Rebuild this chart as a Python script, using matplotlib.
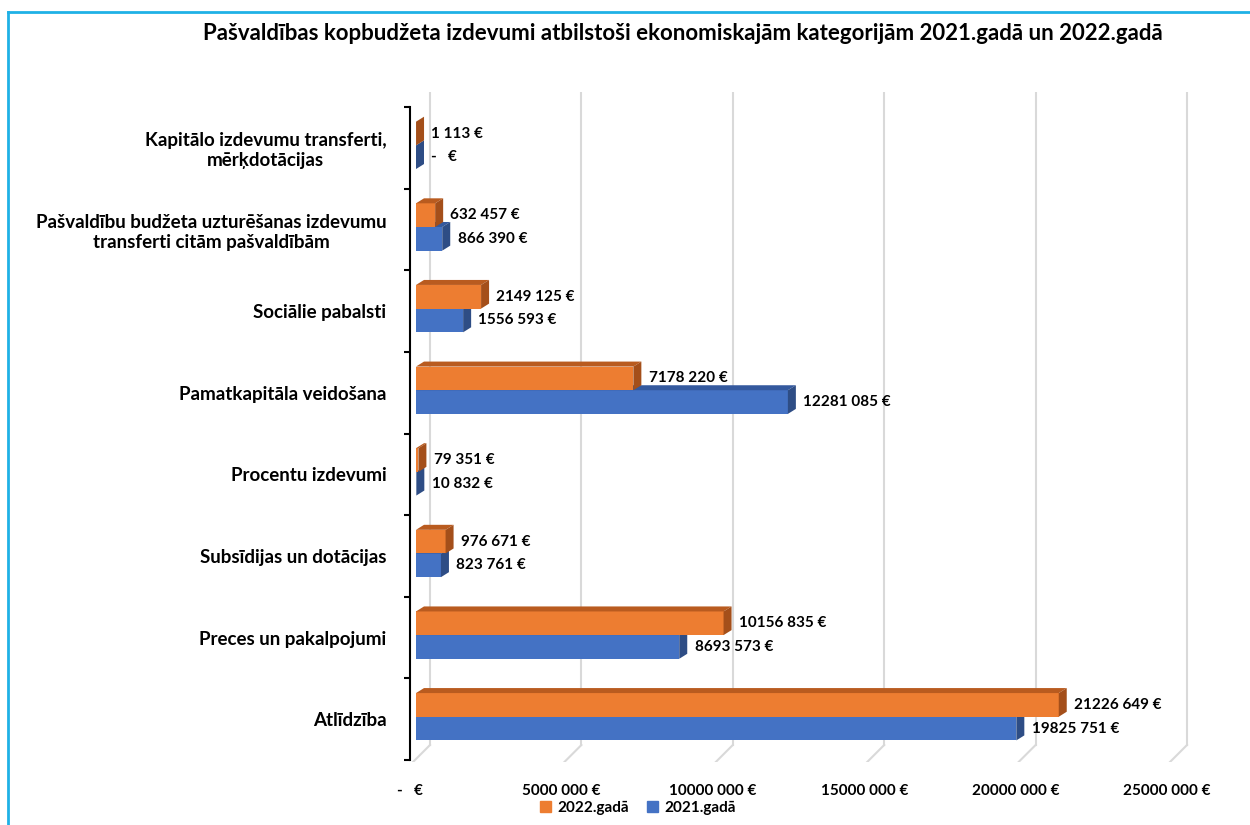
import matplotlib.pyplot as plt
from matplotlib.lines import Line2D
from matplotlib.patches import Patch, Polygon
from matplotlib.transforms import ScaledTranslation

plt.rcParams["font.family"] = ["Lato", "DejaVu Sans"]

categories = [
    "Atlīdzība",
    "Preces un pakalpojumi",
    "Subsīdijas un dotācijas",
    "Procentu izdevumi",
    "Pamatkapitāla veidošana",
    "Sociālie pabalsti",
    "Pašvaldību budžeta uzturēšanas izdevumu\ntransferti citām pašvaldībām",
    "Kapitālo izdevumu transferti,\nmērķdotācijas",
]
values_2021 = [19825751, 8693573, 823761, 10832, 12281085, 1556593, 866390, 0]
values_2022 = [21226649, 10156835, 976671, 79351, 7178220, 2149125, 632457, 1113]
x_ticks = [0, 5000000, 10000000, 15000000, 20000000, 25000000]

TITLE = "Pašvaldības kopbudžeta izdevumi atbilstoši ekonomiskajām kategorijām 2021.gadā un 2022.gadā"

ORANGE = ("#ED7D31", "#B95B1F", "#A44F1A")  # front, top, side
BLUE = ("#4472C4", "#34599E", "#2E4D85")


def eur(v):
    if v == 0:
        return "-   €"
    return f"{v // 1000} {v % 1000:03d} €" if v >= 1000 else f"{v} €"


fig = plt.figure(figsize=(12.5, 8.25), dpi=100)
W, H = 1250, 825
ax = fig.add_axes([410 / W, 1 - 762 / H, (1200 - 410) / W, (762 - 92) / H])

px_x = 5e6 / 151.4          # euros per pixel
px_y = 1 / 81.6             # category units per pixel
ax.set_xlim(-6 * px_x, (1200 - 416) * px_x)
ax.set_ylim(-0.5 - 2 * px_y, 7.5 + 15 * px_y)

# back-wall gridlines with floor slant
for t in x_ticks:
    xb = t + 14 * px_x
    ax.add_line(Line2D([xb, xb], [-0.5 + 15 * px_y, 7.5 + 15 * px_y],
                       color="#D9D9D9", lw=1.5, zorder=0))
    ax.add_line(Line2D([xb, t - 3 * px_x], [-0.5 + 15 * px_y, -0.5 - 2 * px_y],
                       color="#D9D9D9", lw=1.5, zorder=0))

bh = 0.29
dx, dy = 8 * px_x, 5 * px_y
shift = 0.03


def bar3d(x, y0, colors, z):
    front, top, side = colors
    ax.add_patch(Polygon([(0, y0), (x, y0), (x, y0 + bh), (0, y0 + bh)],
                         closed=True, fc=front, ec="none", zorder=z))
    ax.add_patch(Polygon([(0, y0 + bh), (x, y0 + bh), (x + dx, y0 + bh + dy),
                          (dx, y0 + bh + dy)], closed=True, fc=top, ec="none", zorder=z))
    ax.add_patch(Polygon([(x, y0), (x + dx, y0 + dy), (x + dx, y0 + bh + dy),
                          (x, y0 + bh)], closed=True, fc=side, ec="none", zorder=z))


for i, (v21, v22) in enumerate(zip(values_2021, values_2022)):
    c = i + shift
    bar3d(v21, c - bh, BLUE, 2)
    bar3d(v22, c, ORANGE, 3)
    ax.annotate(eur(v22), (v22, c + bh / 2), xytext=(11, 0), textcoords="offset points",
                ha="left", va="center", fontsize=11, fontweight="bold", zorder=5)
    ax.annotate(eur(v21), (v21, c - bh / 2), xytext=(11, 0), textcoords="offset points",
                ha="left", va="center", fontsize=11, fontweight="bold", zorder=5)

# axes styling
for s in ["top", "right", "bottom"]:
    ax.spines[s].set_visible(False)
ax.spines["left"].set_bounds(-0.5, 7.5)
ax.spines["left"].set_linewidth(1.5)
ax.set_yticks(range(len(categories)))
ax.set_yticklabels(categories, fontsize=13.5, fontweight="bold", multialignment="center")
ax.set_yticks([k - 0.5 for k in range(len(categories) + 1)], minor=True)
ax.tick_params(axis="y", which="major", length=0, pad=17)
ax.tick_params(axis="y", which="minor", length=4, width=1.5)

ax.set_xticks(x_ticks)
ax.set_xticklabels([eur(t) for t in x_ticks], fontsize=11, fontweight="bold")
ax.tick_params(axis="x", length=0, pad=16)
off = ScaledTranslation(-6 / 100, 0, fig.dpi_scale_trans)
for lbl in ax.get_xticklabels():
    lbl.set_transform(lbl.get_transform() + off)

fig.text(683 / W, 1 - 33 / H, TITLE, ha="center", va="center",
         fontsize=16, fontweight="bold")

handles = [Patch(color=ORANGE[0], label="2022.gadā"), Patch(color=BLUE[0], label="2021.gadā")]
fig.legend(handles=handles, loc="center", bbox_to_anchor=(638 / W, 1 - 808 / H), ncol=2,
           frameon=False, prop={"size": 11, "weight": "bold"}, handlelength=0.7,
           handleheight=0.7, handletextpad=0.4, columnspacing=1.2)

# outer frame
fig.add_artist(Line2D([8 / W, 8 / W], [0, 1 - 12 / H], color="#1FB1E6", lw=2,
                      transform=fig.transFigure))
fig.add_artist(Line2D([8 / W, 1], [1 - 12 / H, 1 - 12 / H], color="#1FB1E6", lw=2,
                      transform=fig.transFigure))

fig.savefig("out.png", dpi=100)
